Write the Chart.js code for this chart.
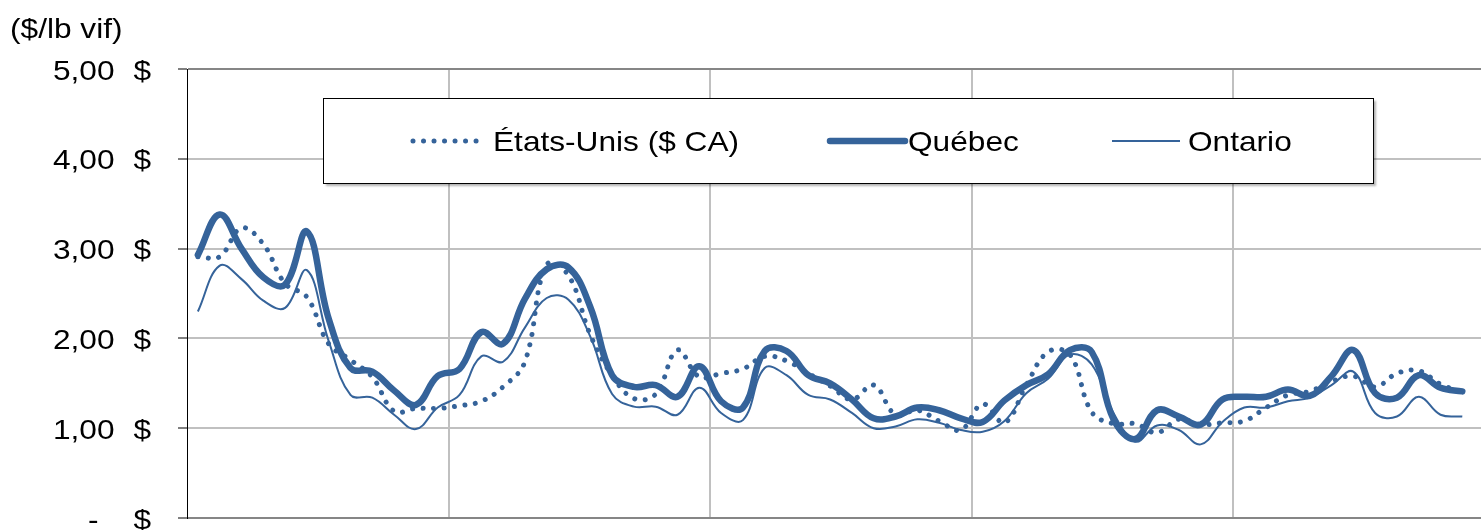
<!DOCTYPE html>
<html lang="fr">
<head>
<meta charset="utf-8">
<title>Prix des porcs ($/lb vif)</title>
<script src="https://cdn.jsdelivr.net/npm/chart.js@4.4.1/dist/chart.umd.min.js"></script>
<style>
  html, body { margin: 0; padding: 0; background: #fff; overflow: hidden; }
  #wrap { width: 1500px; height: 530px; }
</style>
</head>
<body>
<div id="wrap"><canvas id="chart" width="1500" height="530"></canvas></div>
<script>
// monthly prices, $/lb live weight
const moisCourts = ["janv.", "févr.", "mars", "avr.", "mai", "juin", "juil.", "août", "sept.", "oct.", "nov.", "déc."];
const labels = Array.from({ length: 60 }, (_, i) => moisCourts[i % 12]);

const usPrice = [2.91, 2.91, 3.23, 3.05, 2.61, 2.46, 1.94, 1.76, 1.57, 1.19, 1.22, 1.22,
  1.25, 1.30, 1.46, 1.74, 2.82, 2.70, 2.04, 1.59, 1.33, 1.38, 1.87, 1.57,
  1.61, 1.66, 1.80, 1.75, 1.61, 1.47, 1.32, 1.48, 1.15, 1.20, 1.08, 0.98,
  1.27, 1.06, 1.48, 1.85, 1.82, 1.18, 1.05, 1.05, 0.95, 1.10, 1.04, 1.06,
  1.08, 1.23, 1.37, 1.41, 1.52, 1.58, 1.46, 1.61, 1.64, 1.49, 1.40];

const quebecPrice = [2.93, 3.38, 3.00, 2.68, 2.60, 3.19, 2.22, 1.67, 1.63, 1.42, 1.26, 1.58,
  1.66, 2.07, 1.94, 2.44, 2.77, 2.79, 2.35, 1.59, 1.46, 1.48, 1.35, 1.69,
  1.30, 1.23, 1.86, 1.86, 1.59, 1.50, 1.32, 1.11, 1.13, 1.23, 1.20, 1.11,
  1.07, 1.31, 1.48, 1.60, 1.87, 1.85, 1.10, 0.88, 1.20, 1.13, 1.04, 1.32,
  1.35, 1.35, 1.43, 1.36, 1.58, 1.87, 1.39, 1.34, 1.59, 1.45, 1.41];

const ontarioPrice = [2.30, 2.81, 2.66, 2.42, 2.34, 2.76, 1.97, 1.37, 1.34, 1.15, 0.99, 1.23,
  1.37, 1.80, 1.74, 2.12, 2.45, 2.43, 2.02, 1.38, 1.24, 1.24, 1.15, 1.45,
  1.17, 1.09, 1.67, 1.59, 1.37, 1.32, 1.17, 1.00, 1.02, 1.10, 1.06, 0.98,
  0.96, 1.08, 1.39, 1.55, 1.82, 1.71, 1.17, 0.85, 1.03, 0.98, 0.82, 1.07,
  1.23, 1.23, 1.30, 1.34, 1.48, 1.63, 1.17, 1.13, 1.35, 1.15, 1.13];

const yTicks = [0, 1, 2, 3, 4, 5];
const yTickLabels = ["-", "1,00", "2,00", "3,00", "4,00", "5,00"];
const unitLabel = "($/lb vif)";

const BLUE = "#35639a";
const FONT = '28.5px "Liberation Sans", Arial, sans-serif';
const SX = 1.11; // source text is a bit wider than it is tall

function stretchedText(ctx, text, x, y, align) {
  ctx.save();
  ctx.scale(SX, 1);
  ctx.textAlign = align;
  ctx.fillText(text, x / SX, y);
  ctx.restore();
}

// axis labels + boxed legend, drawn by hand to match the Excel look
const textPlugin = {
  id: "texts",
  afterDraw(chart) {
    const { ctx } = chart;
    const y = chart.scales.y;
    ctx.save();
    ctx.font = FONT;
    ctx.fillStyle = "#000";
    ctx.textBaseline = "alphabetic";

    stretchedText(ctx, unitLabel, 10, 38, "left");
    yTicks.forEach((v, i) => {
      const py = y.getPixelForValue(v) + 10.5;
      const lab = yTickLabels[i];
      stretchedText(ctx, lab, lab === "-" ? 98.5 : 114.5, py, "right");
      stretchedText(ctx, "$", 151, py, "right");
    });

    // legend box
    ctx.save();
    ctx.shadowColor = "rgba(0,0,0,0.3)";
    ctx.shadowOffsetX = 2;
    ctx.shadowOffsetY = 2;
    ctx.shadowBlur = 2;
    ctx.fillStyle = "#fff";
    ctx.fillRect(323.5, 98.5, 1050, 85);
    ctx.restore();
    ctx.strokeStyle = "#000";
    ctx.lineWidth = 1;
    ctx.strokeRect(323.5, 98.5, 1050, 85);

    const items = [
      { x0: 413, x1: 478, tx: 493 },
      { x0: 830, x1: 905, tx: 908 },
      { x0: 1112, x1: 1180, tx: 1188 },
    ];
    chart.data.datasets.forEach((ds, i) => {
      const it = items[i];
      ctx.save();
      ctx.strokeStyle = ds.borderColor;
      ctx.lineWidth = ds.borderWidth;
      ctx.lineCap = ds.borderCapStyle || "butt";
      ctx.setLineDash(ds.borderDash || []);
      ctx.beginPath();
      ctx.moveTo(it.x0, 141);
      ctx.lineTo(it.x1, 141);
      ctx.stroke();
      ctx.restore();
      ctx.fillStyle = "#000";
      stretchedText(ctx, ds.label, it.tx, 151, "left");
    });
    ctx.restore();
  },
};

new Chart(document.getElementById("chart"), {
  type: "line",
  data: {
    labels,
    datasets: [
      { label: "États-Unis ($ CA)", data: usPrice, borderColor: BLUE, borderWidth: 5, borderDash: [0.01, 10.5], borderCapStyle: "round", order: 3 },
      { label: "Québec", data: quebecPrice, borderColor: BLUE, borderWidth: 6.5, borderCapStyle: "round", borderJoinStyle: "round", order: 2 },
      { label: "Ontario", data: ontarioPrice, borderColor: BLUE, borderWidth: 2, order: 1 },
    ],
  },
  options: {
    responsive: false,
    animation: false,
    layout: { padding: { top: 69, right: 5, left: 0, bottom: 0 } },
    elements: { point: { radius: 0 }, line: { tension: 0.4, fill: false } },
    plugins: { legend: { display: false }, tooltip: { enabled: false } },
    scales: {
      x: {
        offset: true,
        grid: {
          offset: true,
          drawTicks: false,
          lineWidth: 2,
          color: (c) => (c.index > 0 && c.index % 12 === 0 ? "#c0c0c0" : "rgba(0,0,0,0)"),
        },
        border: { color: "#868686", width: 2 },
        ticks: { display: false },
        afterFit: (s) => { s.height = 12; },
      },
      y: {
        min: 0,
        max: 5,
        ticks: { stepSize: 1, display: false },
        grid: {
          lineWidth: 2,
          tickLength: 9,
          tickColor: "#000",
          tickWidth: 1,
          color: (c) => (c.tick.value === 0 || c.tick.value === 5 ? "#868686" : "#c0c0c0"),
        },
        border: { color: "#000", width: 1 },
        afterFit: (s) => { s.width = 187; },
      },
    },
  },
  plugins: [textPlugin],
});
</script>
</body>
</html>
